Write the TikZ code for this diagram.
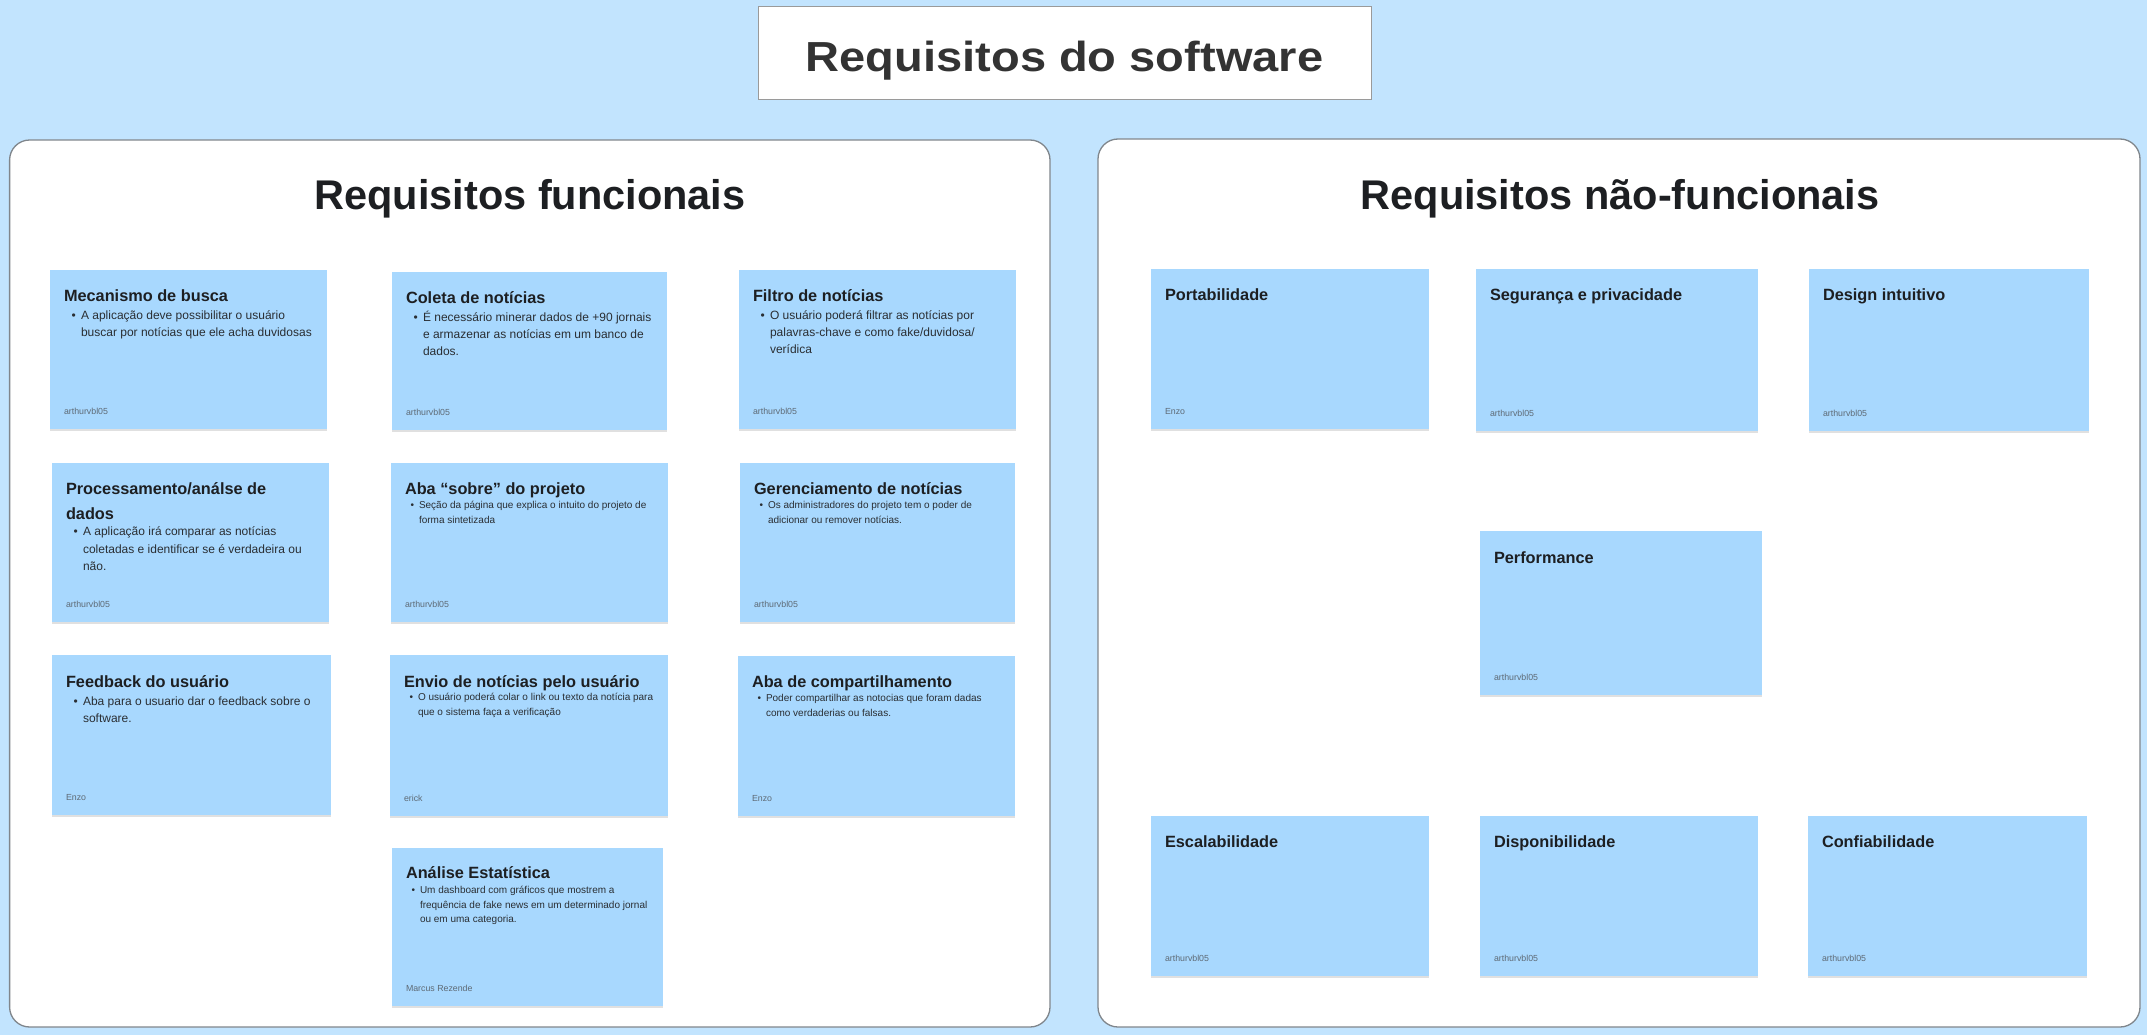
\documentclass[tikz,border=0pt]{standalone}
\usepackage{graphicx}
\usepackage{fontspec}
\setmainfont{Liberation Sans}
\usetikzlibrary{fit,shadows}
\definecolor{bgblue}{HTML}{C2E4FE}
\definecolor{notefill}{HTML}{A8D8FE}
\definecolor{panelline}{HTML}{80868C}
\definecolor{boxline}{HTML}{9A9A9A}
\definecolor{maintitle}{HTML}{333333}
\definecolor{ink}{HTML}{1D1F22}
\definecolor{bodyink}{HTML}{2A2E33}
\definecolor{authorink}{HTML}{5E6A75}
\tikzset{
  panelbox/.style={draw=panelline, line width=1.3pt, fill=white, rounded corners=20pt, inner sep=0pt},
  titlebox/.style={draw=boxline, line width=1pt, fill=white, inner sep=0pt},
  notebox/.style={fill=notefill, inner sep=0pt, drop shadow={shadow xshift=0pt, shadow yshift=-1.5pt, opacity=0.12, fill=black}},
  ntitle/.style={inner sep=0pt, text=ink, font=\fontsize{16.3}{20}\selectfont\bfseries},
  nbodybig/.style={inner sep=0pt, text=bodyink, font=\fontsize{12}{14}\selectfont},
  nbodysmall/.style={inner sep=0pt, text=bodyink, font=\fontsize{10}{12}\selectfont},
  nauthor/.style={inner sep=0pt, text=authorink, font=\fontsize{8.8}{10}\selectfont},
  ptitle/.style={inner sep=0pt, text=ink, font=\fontsize{41.5}{48}\selectfont\bfseries},
  mtitle/.style={inner sep=0pt, text=maintitle, font=\fontsize{42}{48}\selectfont\bfseries},
}
\newcommand{\NoteBox}[5]{\node[notebox, fit={(#2,#3)(#4,#5)}] (#1) {};}
\newcommand{\NoteTitle}[4]{\node[ntitle, anchor=base west, xshift=14pt, yshift=-#3pt] (#1-t#2) at (#1.north west) {#4};}
\newcommand{\NoteAuthor}[2]{\node[nauthor, anchor=base west, xshift=14pt, yshift=15pt] (#1-a) at (#1.south west) {#2};}
\newcommand{\NoteBody}[7]{%
  \node[#2, anchor=base west, xshift=#5pt, yshift=-#3pt] (#1-bullet) at (#1.north west) {\textbullet};
  \foreach \ln [count=\i] in {#7}{%
    \pgfmathsetmacro{\yy}{#3+(\i-1)*#4}%
    \node[#2, anchor=base west, xshift=#6pt, yshift=-\yy pt] (#1-b\i) at (#1.north west) {\ln};
  }%
}
\newcommand{\BigBody}[2]{\NoteBody{#1}{nbodybig}{49.5}{17.3}{21.5}{31}{#2}}
\newcommand{\SmallBody}[2]{\NoteBody{#1}{nbodysmall}{46}{14.4}{19.7}{28}{#2}}
\begin{document}
\begin{tikzpicture}[x=1pt,y=-1pt]
\useasboundingbox (0,0) rectangle (2147,1035);
\fill[bgblue] (0,0) rectangle (2147,1035);

% main title
\node[titlebox, fit={(758,7)(1371,100)}] (tbox) {};
\node[mtitle, anchor=base] (maint) at (1064.5,72) {\scalebox{1.12}[1]{Requisitos do software}};

% panels
\node[panelbox, fit={(9.6,140)(1050,1027)}] (lpanel) {};
\node[panelbox, fit={(1098,139)(2140,1027)}] (rpanel) {};
\node[ptitle, anchor=base] (ltitle) at (530,210) {Requisitos funcionais};
\node[ptitle, anchor=base] (rtitle) at (1620,210) {Requisitos não-funcionais};

% ---- functional notes ----
\NoteBox{mec}{50}{270}{327}{429}
\NoteTitle{mec}{1}{31.8}{Mecanismo de busca}
\BigBody{mec}{{A aplicação deve possibilitar o usuário},{buscar por notícias que ele acha duvidosas}}
\NoteAuthor{mec}{arthurvbl05}

\NoteBox{col}{392}{272}{667}{430}
\NoteTitle{col}{1}{31.8}{Coleta de notícias}
\BigBody{col}{{É necessário minerar dados de +90 jornais},{e armazenar as notícias em um banco de},{dados.}}
\NoteAuthor{col}{arthurvbl05}

\NoteBox{fil}{739}{270}{1016}{429}
\NoteTitle{fil}{1}{31.8}{Filtro de notícias}
\BigBody{fil}{{O usuário poderá filtrar as notícias por},{palavras-chave e como fake/duvidosa/},{verídica}}
\NoteAuthor{fil}{arthurvbl05}

\NoteBox{pro}{52}{463}{329}{622}
\NoteTitle{pro}{1}{31.8}{Processamento/análse de}
\NoteTitle{pro}{2}{56.8}{dados}
\NoteBody{pro}{nbodybig}{73}{17.4}{21.5}{31}{{A aplicação irá comparar as notícias},{coletadas e identificar se é verdadeira ou},{não.}}
\NoteAuthor{pro}{arthurvbl05}

\NoteBox{sob}{391}{463}{668}{622}
\NoteTitle{sob}{1}{31.8}{Aba “sobre” do projeto}
\SmallBody{sob}{{Seção da página que explica o intuito do projeto de},{forma sintetizada}}
\NoteAuthor{sob}{arthurvbl05}

\NoteBox{ger}{740}{463}{1015}{622}
\NoteTitle{ger}{1}{31.8}{Gerenciamento de notícias}
\SmallBody{ger}{{Os administradores do projeto tem o poder de},{adicionar ou remover notícias.}}
\NoteAuthor{ger}{arthurvbl05}

\NoteBox{fee}{52}{655}{331}{815}
\NoteTitle{fee}{1}{32.5}{Feedback do usuário}
\NoteBody{fee}{nbodybig}{50.3}{17}{21.5}{31}{{Aba para o usuario dar o feedback sobre o},{software.}}
\NoteAuthor{fee}{Enzo}

\NoteBox{env}{390}{655}{668}{816}
\NoteTitle{env}{1}{32.5}{Envio de notícias pelo usuário}
\SmallBody{env}{{O usuário poderá colar o link ou texto da notícia para},{que o sistema faça a verificação}}
\NoteAuthor{env}{erick}

\NoteBox{com}{738}{656}{1015}{816}
\NoteTitle{com}{1}{31.5}{Aba de compartilhamento}
\SmallBody{com}{{Poder compartilhar as notocias que foram dadas},{como verdaderias ou falsas.}}
\NoteAuthor{com}{Enzo}

\NoteBox{ana}{392}{848}{663}{1006}
\NoteTitle{ana}{1}{30.8}{Análise Estatística}
\SmallBody{ana}{{Um dashboard com gráficos que mostrem a},{frequência de fake news em um determinado jornal},{ou em uma categoria.}}
\NoteAuthor{ana}{Marcus Rezende}

% ---- non-functional notes ----
\NoteBox{por}{1151}{269}{1429}{429}
\NoteTitle{por}{1}{31.8}{Portabilidade}
\NoteAuthor{por}{Enzo}

\NoteBox{seg}{1476}{269}{1758}{431}
\NoteTitle{seg}{1}{31.8}{Segurança e privacidade}
\NoteAuthor{seg}{arthurvbl05}

\NoteBox{des}{1809}{269}{2089}{431}
\NoteTitle{des}{1}{31.8}{Design intuitivo}
\NoteAuthor{des}{arthurvbl05}

\NoteBox{per}{1480}{531}{1762}{695}
\NoteTitle{per}{1}{32.5}{Performance}
\NoteAuthor{per}{arthurvbl05}

\NoteBox{esc}{1151}{816}{1429}{976}
\NoteTitle{esc}{1}{31.8}{Escalabilidade}
\NoteAuthor{esc}{arthurvbl05}

\NoteBox{dis}{1480}{816}{1758}{976}
\NoteTitle{dis}{1}{31.8}{Disponibilidade}
\NoteAuthor{dis}{arthurvbl05}

\NoteBox{con}{1808}{816}{2087}{976}
\NoteTitle{con}{1}{31.8}{Confiabilidade}
\NoteAuthor{con}{arthurvbl05}
\end{tikzpicture}
\end{document}
